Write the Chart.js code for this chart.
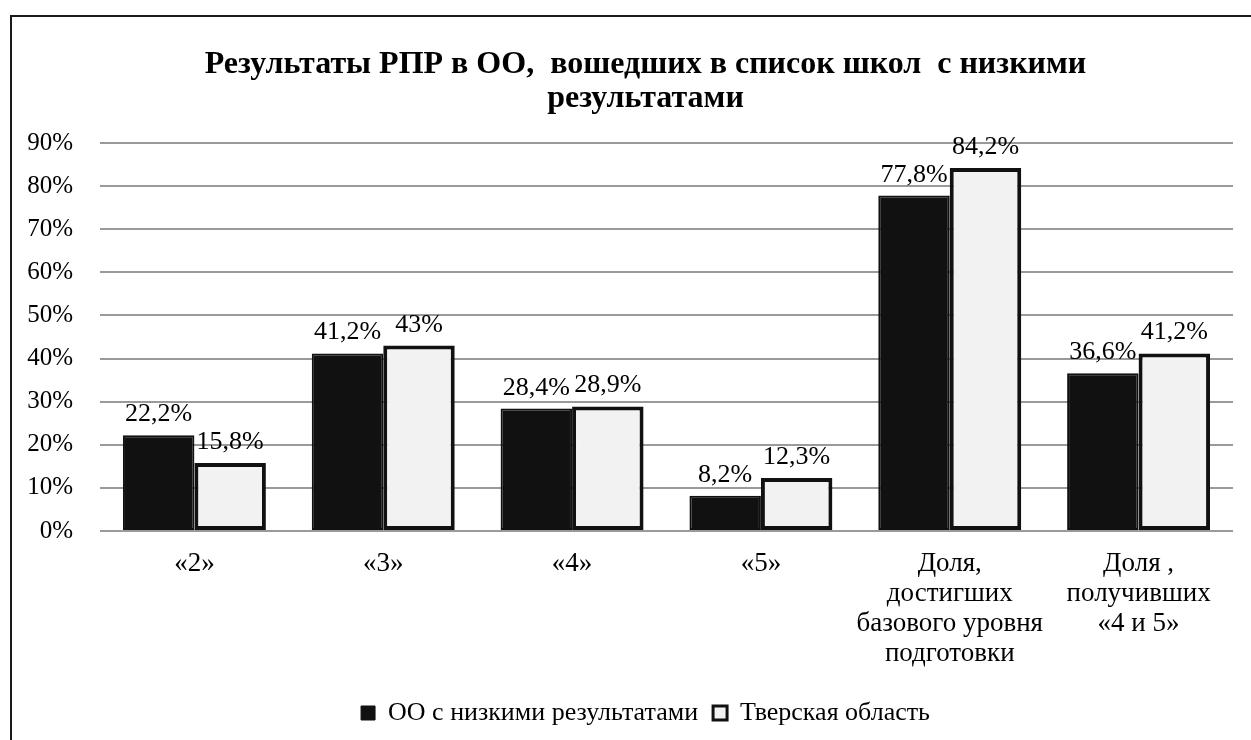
<!DOCTYPE html>
<html>
<head>
<meta charset="utf-8">
<script src="https://cdn.jsdelivr.net/npm/chart.js@4.4.1/dist/chart.umd.min.js"></script>
<style>
html,body{margin:0;padding:0;background:#fff;}
#wrap{width:1251px;height:740px;position:relative;}
</style>
</head>
<body>
<div id="wrap"><canvas id="c" width="1251" height="740"></canvas></div>
<script>
const categories = [
  '«2»',
  '«3»',
  '«4»',
  '«5»',
  ['Доля,', 'достигших', 'базового уровня', 'подготовки'],
  ['Доля ,', 'получивших', '«4 и 5»']
];
const seriesNames = ['ОО с низкими результатами', 'Тверская область'];
const lowSchools = [22.2, 41.2, 28.4, 8.2, 77.8, 36.6];
const tverRegion = [15.8, 43, 28.9, 12.3, 84.2, 41.2];
const yTicks = [0, 10, 20, 30, 40, 50, 60, 70, 80, 90];
const titleLines = ['Результаты РПР в ОО,  вошедших в список школ  с низкими', 'результатами'];

const FONT = '"Liberation Serif", "Times New Roman", serif';
const fmt = v => String(v).replace('.', ',') + '%';

const frame = {
  id: 'frame',
  beforeDraw(chart) {
    const ctx = chart.ctx;
    ctx.save();
    ctx.fillStyle = '#fff';
    ctx.fillRect(0, 0, chart.width, chart.height);
    ctx.strokeStyle = '#1a1a1a';
    ctx.lineWidth = 2;
    ctx.beginPath();
    ctx.moveTo(11, 740);
    ctx.lineTo(11, 16);
    ctx.lineTo(1251, 16);
    ctx.stroke();
    ctx.restore();
  },
  afterLayout(chart) {
    // let y tick labels extend left of the narrow axis box without clipping
    chart.scales.y.left = 0;
  }
};

const valueLabels = {
  id: 'valueLabels',
  afterDatasetsDraw(chart) {
    const ctx = chart.ctx;
    ctx.save();
    ctx.font = '26px ' + FONT;
    ctx.fillStyle = '#000';
    ctx.textAlign = 'center';
    ctx.textBaseline = 'alphabetic';
    chart.data.datasets.forEach((ds, di) => {
      const meta = chart.getDatasetMeta(di);
      meta.data.forEach((bar, i) => {
        ctx.fillText(fmt(ds.data[i]), bar.x, bar.y - 14);
      });
    });
    ctx.restore();
  }
};

new Chart(document.getElementById('c'), {
  type: 'bar',
  data: {
    labels: categories,
    datasets: [
      {
        label: seriesNames[0],
        data: lowSchools,
        backgroundColor: '#111111',
        borderColor: '#111111',
        borderWidth: 2,
        borderSkipped: false,
        categoryPercentage: 0.757,
        barPercentage: 1.0
      },
      {
        label: seriesNames[1],
        data: tverRegion,
        backgroundColor: '#f2f2f2',
        borderColor: '#111111',
        borderWidth: 4,
        borderSkipped: false,
        categoryPercentage: 0.757,
        barPercentage: 1.0
      }
    ]
  },
  options: {
    responsive: false,
    animation: false,
    devicePixelRatio: 1,
    layout: { padding: { top: 15, left: 58, right: 18, bottom: 4 } },
    plugins: {
      title: {
        display: true,
        text: titleLines,
        color: '#000',
        font: { family: FONT, size: 32, weight: 'bold', lineHeight: '34px' },
        padding: { top: 33, bottom: 27 }
      },
      legend: {
        position: 'bottom',
        labels: {
          color: '#000',
          font: { family: FONT, size: 26 },
          boxWidth: 14,
          boxHeight: 14,
          padding: 15,
          generateLabels(chart) {
            return chart.data.datasets.map((ds, i) => ({
              text: ds.label,
              fillStyle: ds.backgroundColor,
              strokeStyle: '#111111',
              lineWidth: i === 0 ? 1 : 3,
              fontColor: '#000',
              hidden: false,
              datasetIndex: i
            }));
          }
        }
      },
      tooltip: { enabled: false }
    },
    scales: {
      x: {
        grid: { display: false },
        border: { display: false },
        ticks: {
          color: '#000',
          font: { family: FONT, size: 27, lineHeight: '30px' },
          maxRotation: 0,
          autoSkip: false,
          padding: 10
        },
        afterFit(scale) { scale.height = 154; }
      },
      y: {
        min: 0,
        max: 90,
        afterBuildTicks(scale) { scale.ticks = yTicks.map(v => ({ value: v })); },
        grid: { color: '#9a9a9a', lineWidth: 2, drawTicks: false },
        border: { display: false },
        ticks: {
          color: '#000',
          font: { family: FONT, size: 25 },
          padding: 27,
          callback: v => v + '%'
        },
        afterFit(scale) { scale.width = 42; }
      }
    }
  },
  plugins: [frame, valueLabels]
});
</script>
</body>
</html>
